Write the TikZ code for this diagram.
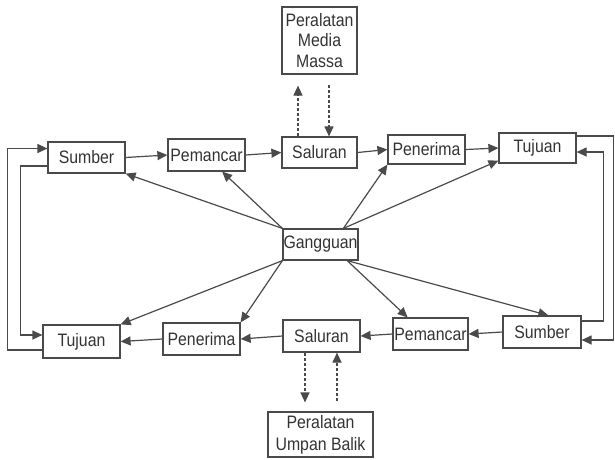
\documentclass[tikz,border=0pt]{standalone}
\usepackage{fontspec}
\setmainfont[FakeStretch=0.88]{Liberation Sans}
\usetikzlibrary{arrows.meta,calc}
\definecolor{linecol}{HTML}{4A4A4A}
\definecolor{textcol}{HTML}{333333}
\begin{document}
\begin{tikzpicture}[x=1pt,y=-1pt,
  box/.style={draw=linecol, line width=1.2pt, inner sep=0pt, text=textcol,
    font=\fontsize{18}{20.5}\selectfont, align=center},
  arr/.style={draw=linecol, line width=1.2pt, -{Triangle[length=10pt,width=9pt]}},
  darr/.style={arr, dash pattern=on 3pt off 2pt}]
\useasboundingbox (0,0) rectangle (615,459);

% top chain
\node[box, minimum width=77pt, minimum height=31pt] (sT)  at (86.5,157.5) {Sumber};
\node[box, minimum width=77pt, minimum height=32pt] (pT)  at (206.5,155)  {Pemancar};
\node[box, minimum width=75pt, minimum height=31pt] (saT) at (319.5,152.5){Saluran};
\node[box, minimum width=77pt, minimum height=29pt] (peT) at (426.5,149.5){Penerima};
\node[box, minimum width=77pt, minimum height=30pt] (tT)  at (537.5,148)  {Tujuan};

% bottom chain
\node[box, minimum width=77pt, minimum height=33pt] (tB)  at (81.5,341.5) {Tujuan};
\node[box, minimum width=77pt, minimum height=32pt] (peB) at (201.5,339)  {Penerima};
\node[box, minimum width=77pt, minimum height=32pt] (saB) at (321.5,336)  {Saluran};
\node[box, minimum width=75pt, minimum height=32pt] (pB)  at (430.5,334)  {Pemancar};
\node[box, minimum width=78pt, minimum height=32pt] (sB)  at (542,332)    {Sumber};

% noise and equipment
\node[box, minimum width=75pt, minimum height=31pt] (g)  at (320.5,244.5) {Gangguan};
\node[box, minimum width=75pt, minimum height=67pt] (mm) at (319.5,40.5)  {Peralatan\\Media\\Massa};
\node[box, minimum width=105pt, minimum height=45pt, font=\fontsize{18}{22}\selectfont] (ub) at (320.5,434.5) {Peralatan\\Umpan Balik};

% forward flow
\draw[arr] (sT.east) -- (pT.west);
\draw[arr] (pT.east) -- (saT.west);
\draw[arr] (saT.east) -- (peT.west);
\draw[arr] (peT.east) -- (tT.west);
\draw[arr] (sB.west) -- (pB.east);
\draw[arr] (pB.west) -- (saB.east);
\draw[arr] (saB.west) -- (peB.east);
\draw[arr] (peB.west) -- (tB.east);

% feedback loops, left side
\draw[arr] ([yshift=-8.5pt]sT.west) -- ++(-27,0) |- ([yshift=6.5pt]tB.west);
\draw[arr] ([yshift=-8.5pt]tB.west) -- ++(-35,0) |- ([yshift=9pt]sT.west);
% feedback loops, right side
\draw[arr] ([yshift=12pt]tT.east) -- ++(37,0) |- ([yshift=-8pt]sB.east);
\draw[arr] ([yshift=11pt]sB.east) -- ++(22,0) |- ([yshift=-4pt]tT.east);

% noise arrows
\draw[arr] (g.north west) -- (sT.south east);
\draw[arr] (g.north west) -- ($(pT.south west)!0.7!(pT.south east)$);
\draw[arr] ($(g.north west)!0.8!(g.north east)$) -- (peT.south west);
\draw[arr] ($(g.north west)!0.8!(g.north east)$) -- ($(tT.south west)+(0,-3)$);
\draw[arr] (g.south west) -- (tB.north east);
\draw[arr] (g.south west) -- (peB.north east);
\draw[arr] ($(g.south west)!0.85!(g.south east)$) -- ($(pB.north west)!0.2!(pB.north east)$);
\draw[arr] ($(g.south west)!0.85!(g.south east)$) -- ($(sB.north west)!0.58!(sB.north east)$);

% mass media equipment
\draw[darr, shorten >=11pt] ($(saT.north)+(-21.5,0)$) -- ($(mm.south)+(-21.5,0)$);
\draw[darr, shorten <=10pt] ($(mm.south)+(9.5,0)$) -- ($(saT.north)+(9.5,0)$);
% feedback equipment
\draw[darr, shorten >=9pt] ($(saB.south)+(-16.5,0)$) -- ($(ub.north)+(-15.5,0)$);
\draw[darr, shorten <=10pt] ($(ub.north)+(16.5,0)$) -- ($(saB.south)+(15.5,0)$);
\end{tikzpicture}
\end{document}
